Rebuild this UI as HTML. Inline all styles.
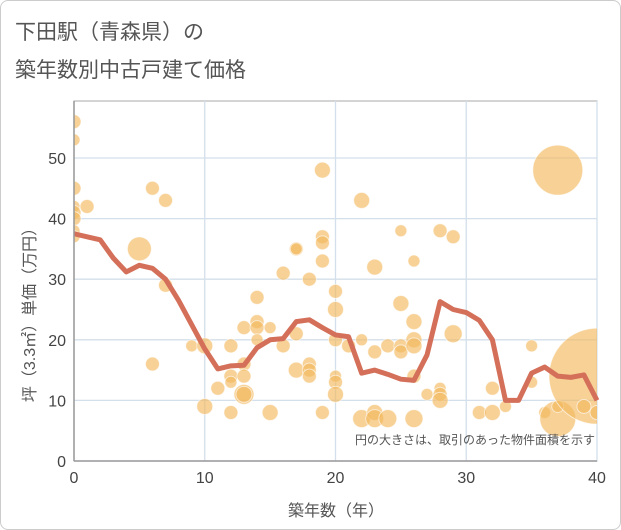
<!DOCTYPE html>
<html><head><meta charset="utf-8"><style>
body{margin:0;background:#fff;font-family:"Liberation Sans","Noto Sans CJK JP",sans-serif}
#wrap{position:relative;width:619px;height:528px;border:1px solid #ccc;border-radius:8px;overflow:hidden}
</style></head><body>
<div id="wrap">
<svg id="chart" width="621" height="530">
<text x="14" y="38" font-size="21" fill="#555">下田駅（青森県）の</text>
<text x="14" y="76" font-size="21" fill="#555">築年数別中古戸建て価格</text>
<g id="grid"></g><g id="bubbles"></g><g id="line"></g><g id="axes"></g>
<text x="594" y="443" font-size="12" fill="#555" text-anchor="end">円の大きさは、取引のあった物件面積を示す</text>
<text x="335" y="515" font-size="16" fill="#555" text-anchor="middle">築年数（年）</text>
<text transform="translate(34,310) rotate(-90)" font-size="16" fill="#555" text-anchor="middle">坪（3.3㎡）単価（万円）</text>
</svg></div>
<script>
const xTicks=[0,10,20,30,40];
const yTicks=[0,10,20,30,40,50];
const lineYears=[0,1,2,3,4,5,6,7,8,9,10,11,12,13,14,15,16,17,18,19,20,21,22,23,24,25,26,27,28,29,30,31,32,33,34,35,36,37,38,39,40];
const lineValues=[37.5,37,36.5,33.5,31.2,32.3,31.8,30,26.5,22.5,18.5,15.2,15.7,15.8,18.7,20,20.2,23,23.3,22,20.8,20.5,14.5,15,14.3,13.5,13.3,17.5,26.3,25,24.5,23.2,20,10,10,14.5,15.5,14,13.8,14.2,10];
const bubbleYears=[0,0,0,0,0,0,0,0,1,5,6,6,7,7,9,10,10,11,12,12,12,12,13,13,13,13,13,14,14,14,14,15,15,16,16,17,17,17,17,18,18,18,18,19,19,19,19,19,20,20,20,20,20,20,21,22,22,22,23,23,23,23,24,24,25,25,25,25,26,26,26,26,26,26,27,28,28,28,28,29,29,31,32,32,33,35,35,36,37,37,37,40,39,40];
const bubbleValues=[56,53,45,42,41,40,38,37,42,35,45,16,43,29,19,19,9,12,19,14,13,8,22,16,14,11,11,27,23,22,20,22,8,31,19,35,35,21,15,30,16,15,14,48,37,36,33,8,28,25,20,14,13,11,19,43,20,7,32,18,8,7,19,7,38,26,19,18,33,23,20,19,14,7,11,38,12,11,10,37,21,8,12,8,9,19,13,8,48,7,9,14,9,8];
const bubbleSizes=[7,6,7,6,7,7,6,6,7,12,7,7,7,7,6,8,8,7,7,7,6,7,7,7,7,10,8,7,7,7,6,6,8,7,7,7,6,7,8,7,7,7,7,8,7,7,7,7,7,8,7,6,7,8,7,8,6,9,8,7,8,9,7,9,6,8,7,7,6,8,8,8,7,9,6,7,6,7,8,7,9,7,7,8,6,6,6,6,25,18,6,48,7,7];
const NS="http://www.w3.org/2000/svg";
const X0=73,X1=596,Y0=460,Y1=157;
const xs=v=>X0+(X1-X0)*v/40, ys=v=>Y0-(Y0-Y1)*v/50;
function mk(t,a,p){const e=document.createElementNS(NS,t);for(const k in a)e.setAttribute(k,a[k]);document.getElementById(p).appendChild(e);return e;}
mk('rect',{x:X0,y:100,width:X1-X0,height:Y0-100,fill:'#fff',stroke:'#aaa'},'grid');
xTicks.forEach(t=>{const l=mk('line',{x1:xs(t),x2:xs(t),y1:100,y2:Y0,stroke:'#d3dfea','stroke-width':1.3},'grid');

const tx=mk('text',{x:xs(t),y:Y0+22,'font-size':16,fill:'#444','text-anchor':'middle'},'axes');tx.textContent=t;
});
yTicks.forEach(t=>{const l=mk('line',{x1:X0,x2:X1,y1:ys(t),y2:ys(t),stroke:'#d3dfea','stroke-width':1.3},'grid');

const tx=mk('text',{x:X0-8,y:ys(t)+6,'font-size':16,fill:'#444','text-anchor':'end'},'axes');tx.textContent=t;
});
mk('line',{x1:X0,x2:X0,y1:100,y2:Y0,stroke:'#999','stroke-width':1.5},'axes');
mk('line',{x1:X0,x2:X1,y1:Y0,y2:Y0,stroke:'#999','stroke-width':1.5},'axes');
const cp=mk('clipPath',{id:'clip'},'bubbles');mk('rect',{x:X0,y:100,width:X1-X0,height:Y0-100},'clip');
bubbleYears.forEach((yr,i)=>{const c=mk('circle',{cx:xs(yr),cy:ys(bubbleValues[i]),r:bubbleSizes[i],fill:'#f2b95e','fill-opacity':0.65,stroke:'#fff','stroke-opacity':0.6,'stroke-width':1,'clip-path':'url(#clip)'},'bubbles');
});
const p=mk('polyline',{points:lineYears.map((y,i)=>xs(y)+','+ys(lineValues[i])).join(' '),fill:'none',stroke:'#d4705a','stroke-width':5,'stroke-linejoin':'round'},'line');

</script></body></html>
